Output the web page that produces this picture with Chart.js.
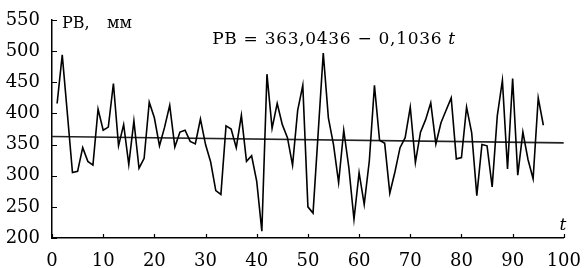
<!DOCTYPE html>
<html>
<head>
<meta charset="utf-8">
<script src="https://cdn.jsdelivr.net/npm/chart.js@4"></script>
<style>
  html, body { margin: 0; padding: 0; background: #fff; }
  #wrap { width: 586px; height: 268px; position: relative; }
</style>
</head>
<body>
<div id="wrap"><canvas id="chPB"></canvas></div>
<script>
/* PB time series with linear trend */

// observation index t
var tValues = [];
for (var i = 1; i <= 96; i++) tValues.push(i);

// PB values, mm
var pbValues = [416, 494, 400, 305, 307, 345, 323, 317, 407, 373,
                378, 448, 348, 382, 318, 388, 312, 328, 418, 393,
                348, 378, 413, 346, 370, 373, 355, 351, 391, 350,
                322, 276, 270, 380, 375, 345, 397, 323, 332, 291,
                211, 463, 376, 416, 382, 361, 317, 405, 445, 250,
                240, 368, 497, 393, 350, 289, 373, 313, 230, 305,
                254, 324, 445, 357, 352, 272, 306, 345, 361, 410,
                321, 370, 390, 417, 351, 385, 405, 425, 327, 329,
                410, 369, 268, 350, 348, 282, 396, 453, 311, 456,
                301, 370, 326, 295, 425, 381];

// trend PB = a + b t
var trendA = 363.0436;
var trendB = -0.1036;
var trendT = [0, 100];

// axis ticks
var xTicks = [0, 10, 20, 30, 40, 50, 60, 70, 80, 90, 100];
var yTicks = [200, 250, 300, 350, 400, 450, 500, 550];

var serif = "'DejaVu Serif', 'Liberation Serif', serif";

var seriesData = tValues.map(function (t, k) { return {x: t, y: pbValues[k]}; });
var trendData = trendT.map(function (t) { return {x: t, y: trendA + trendB * t}; });

// inward tick marks + text labels
var decorPlugin = {
  id: 'decor',
  afterDraw: function (chart) {
    var ctx = chart.ctx;
    var xs = chart.scales.x, ys = chart.scales.y;
    var area = chart.chartArea;
    ctx.save();
    ctx.strokeStyle = '#000';
    ctx.lineWidth = 1.2;
    ctx.beginPath();
    xTicks.forEach(function (v) {
      var px = Math.round(xs.getPixelForValue(v)) + 0.5;
      ctx.moveTo(px, area.bottom);
      ctx.lineTo(px, area.bottom - 4);
    });
    yTicks.forEach(function (v) {
      var py = Math.round(ys.getPixelForValue(v)) + 0.5;
      ctx.moveTo(area.left, py);
      ctx.lineTo(area.left + 5, py);
    });
    ctx.stroke();

    ctx.fillStyle = '#000';
    ctx.textBaseline = 'alphabetic';
    ctx.textAlign = 'left';
    ctx.font = '16px ' + serif;
    ctx.fillText('РВ,', area.left + 10, 28);
    ctx.fillText('мм', area.left + 55, 28);

    // trend equation
    ctx.letterSpacing = '0.7px';
    var main = 'РВ = 363,0436 − 0,1036 ';
    ctx.font = '17px ' + serif;
    var w1 = ctx.measureText(main).width;
    ctx.font = 'italic 17px ' + serif;
    var w2 = ctx.measureText('t').width;
    var x0 = 334 - (w1 + w2) / 2;
    ctx.font = '17px ' + serif;
    ctx.fillText(main, x0, 44);
    ctx.font = 'italic 17px ' + serif;
    ctx.fillText('t', x0 + w1, 44);
    ctx.letterSpacing = '0px';

    // axis name
    ctx.font = 'italic 17px ' + serif;
    ctx.textAlign = 'center';
    ctx.fillText('t', area.right - 1, 230);
    ctx.restore();
  }
};

new Chart(document.getElementById('chPB'), {
  type: 'line',
  data: {
    datasets: [
      {
        data: seriesData,
        borderColor: '#000',
        borderWidth: 1.6,
        pointRadius: 0,
        tension: 0,
        fill: false
      },
      {
        data: trendData,
        borderColor: '#222',
        borderWidth: 1.6,
        pointRadius: 0,
        fill: false
      }
    ]
  },
  options: {
    responsive: true,
    maintainAspectRatio: false,
    animation: false,
    layout: {padding: {top: 20, right: 18, left: 0, bottom: 0}},
    plugins: {legend: {display: false}, tooltip: {enabled: false}},
    scales: {
      x: {
        type: 'linear',
        min: 0, max: 100,
        afterBuildTicks: function (s) { s.ticks = xTicks.map(function (v) { return {value: v}; }); },
        afterFit: function (s) { s.height = 30; },
        grid: {display: false},
        border: {display: true, color: '#000', width: 1.5},
        ticks: {color: '#000', padding: 5, maxRotation: 0, font: {family: serif, size: 18}}
      },
      y: {
        type: 'linear',
        min: 200, max: 550,
        afterBuildTicks: function (s) { s.ticks = yTicks.map(function (v) { return {value: v}; }); },
        afterFit: function (s) { s.width = 52; },
        grid: {display: false},
        border: {display: true, color: '#000', width: 1.5},
        ticks: {color: '#000', padding: 4, font: {family: serif, size: 18}}
      }
    }
  },
  plugins: [decorPlugin]
});
</script>
</body>
</html>
